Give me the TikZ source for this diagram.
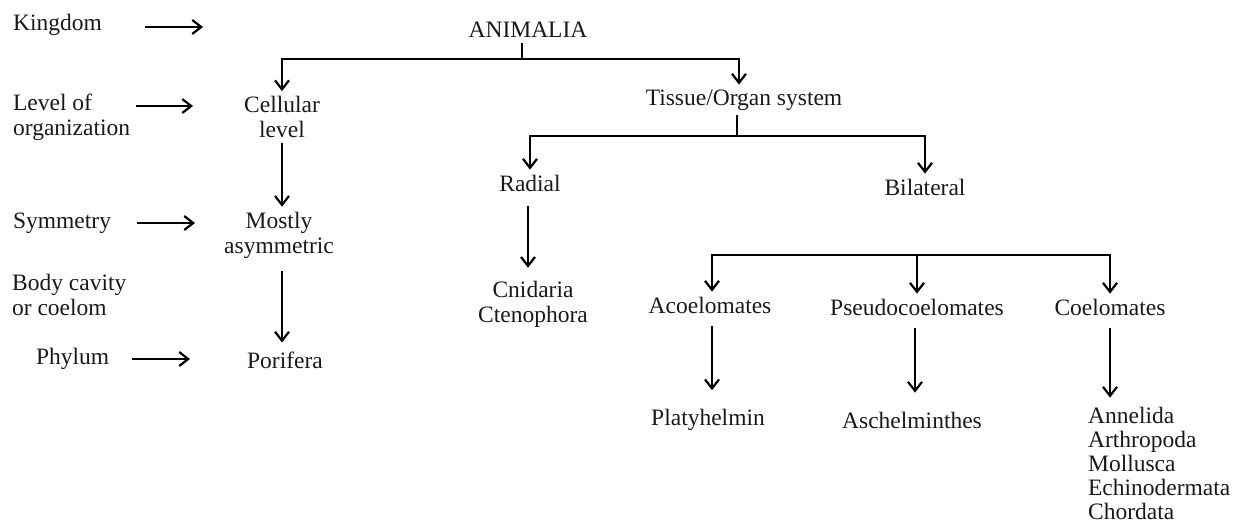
\documentclass[tikz,border=0pt]{standalone}
\usepackage{fontspec}
\setmainfont{Liberation Serif}
\usetikzlibrary{arrows.meta}

\begin{document}
\begin{tikzpicture}[x=1pt,y=-1pt,line width=2.2pt,>={Straight Barb[length=9pt,width=14pt]},
  every node/.style={font=\fontsize{23.5}{25}\selectfont,inner sep=4pt,text=black!90},
  lbl/.style={anchor=west,align=left,inner sep=0pt},
  taxon/.style={align=center}]
\useasboundingbox (0,0) rectangle (1233,525);
% 左侧分类等级
\node[lbl] (kingdom) at (12,25) {Kingdom};
\node[lbl] (levelorg) at (12,117) {Level of\\organization};
\node[lbl] (symm) at (12,223) {Symmetry};
\node[lbl] (bodycav) at (11,295) {Body cavity\\or coelom};
\node[lbl] (phylum) at (35,359) {Phylum};
% 侧边箭头端点
\coordinate (kA) at (145,27);  \coordinate (kB) at (203,27);
\coordinate (lA) at (136,106); \coordinate (lB) at (193,106);
\coordinate (sA) at (137,223); \coordinate (sB) at (195,223);
\coordinate (pA) at (132,359); \coordinate (pB) at (190,359);
\draw[->] (kA) -- (kB);
\draw[->] (lA) -- (lB);
\draw[->] (sA) -- (sB);
\draw[->] (pA) -- (pB);
% 分类树节点
\node[taxon] (animalia) at (528,30) {ANIMALIA};
\node[taxon] (cellular) at (282,117) {Cellular\\level};
\node[taxon] (mostly) at (279,235) {Mostly\\asymmetric};
\node[taxon] (porifera) at (285,360) {Porifera};
\node[taxon] (tissue) at (744,100) {Tissue/Organ system};
\node[taxon] (radial) at (530,183) {Radial};
\node[taxon] (bilateral) at (925,187) {Bilateral};
\node[taxon] (cnid) at (533,304) {Cnidaria\\Ctenophora};
\node[taxon] (acoel) at (710,305) {Acoelomates};
\node[taxon] (pseudo) at (917,307) {Pseudocoelomates};
\node[taxon] (coel) at (1110,307) {Coelomates};
\node[taxon] (platy) at (708,420) {Platyhelmin};
\node[taxon] (aschel) at (912,420) {Aschelminthes};
\node[lbl,font=\fontsize{23.5}{24}\selectfont] (phyla) at (1087,463) {Annelida\\Arthropoda\\Mollusca\\Echinodermata\\Chordata};
% 分支连线
\coordinate (j1) at (522,59);
\coordinate (j2) at (737,136);
\coordinate (j3) at (917,255);
\draw (animalia.south -| j1) -- (j1);
\draw[->] (j1) -| (cellular.north);
\draw[->] (j1) -| ([xshift=-5pt]tissue.north);
\draw (tissue.south -| j2) -- (j2);
\draw[->] (j2) -| (radial.north);
\draw[->] (j2) -| (bilateral.north);
\draw[->] (j3) -| ([xshift=2pt]acoel.north);
\draw[->] (j3) -| (coel.north);
\draw[->] (j3) -- (pseudo.north);
% 竖直箭头
\draw[->] (cellular.south) -- (cellular.south |- mostly.north);
\draw[->,shorten <=8pt,shorten >=4pt] (mostly.south -| cellular) -- (cellular |- porifera.north);
\draw[->,shorten <=10pt,shorten >=8pt] (radial.south -| 528,0) -- (528,0 |- cnid.north);
\draw[->,shorten <=8pt,shorten >=14pt] ([xshift=2pt]acoel.south) -- ([xshift=2pt]acoel.south |- platy.north);
\draw[->,shorten <=8pt,shorten >=14pt] ([xshift=-2pt]pseudo.south) -- ([xshift=-2pt]pseudo.south |- aschel.north);
\draw[->,shorten <=8pt,shorten >=8pt] (coel.south) -- (coel.south |- phyla.north);
\end{tikzpicture}
\end{document}
